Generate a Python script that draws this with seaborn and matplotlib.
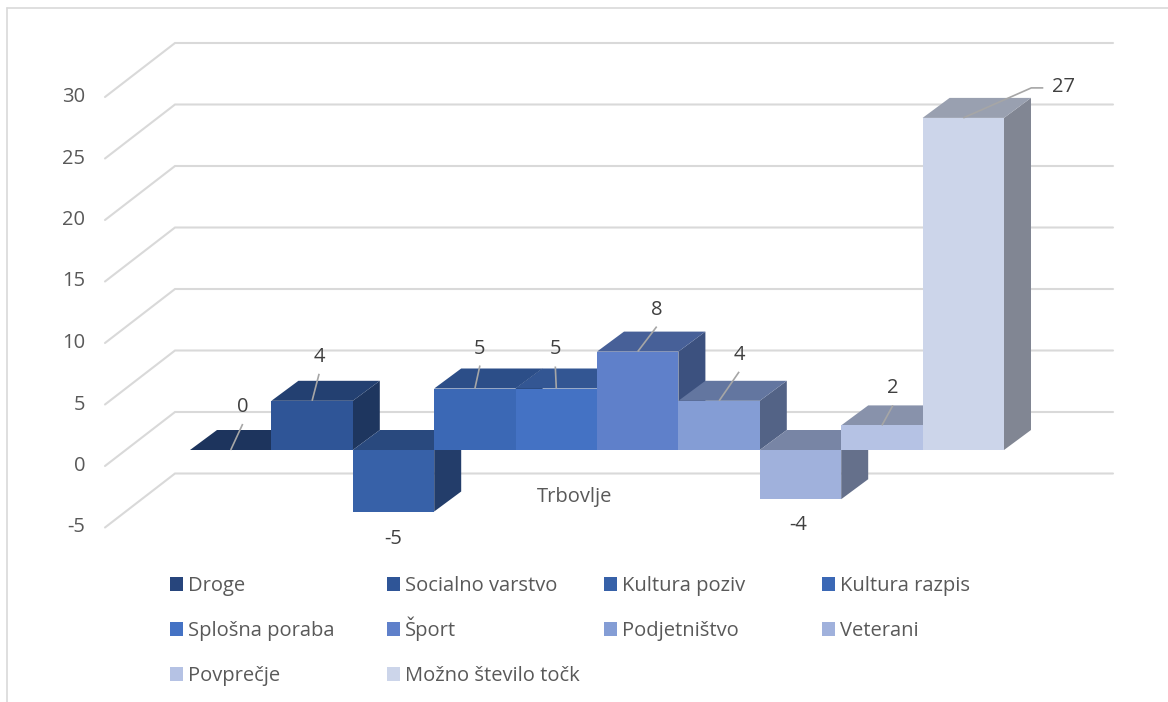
import numpy as np
import pandas as pd
import matplotlib
matplotlib.use("Agg")
import matplotlib.pyplot as plt
import seaborn as sns
from matplotlib.patches import Polygon
from matplotlib.lines import Line2D
import matplotlib.colors as mcolors

# ---------------- data ----------------
category = ["Trbovlje"]
series = ["Droge", "Socialno varstvo", "Kultura poziv", "Kultura razpis",
          "Splošna poraba", "Šport", "Podjetništvo", "Veterani",
          "Povprečje", "Možno število točk"]
values = [0, 4, -5, 5, 5, 8, 4, -4, 2, 27]
y_ticks = [-5, 0, 5, 10, 15, 20, 25, 30]

# ---------------- style ----------------
front_colors = ["#27457C", "#2F5597", "#3761A8", "#3B68B5", "#4472C4",
                "#5F80CA", "#849DD5", "#A0B1DC", "#B5C2E4", "#CCD5EA"]
# label offsets (pixels) relative to front-top centre of each bar
label_dx = [12, 7, 0, 5, -1, 19, 20, -2, 11, 100]
label_dy = [-43, -44, 28, -40, -39, -42, -46, 26, -37, -31]

W, H = 1168, 702
PX_X = 1017.5      # pixels per x data unit
PX_Y = 12.3        # pixels per y data unit
X0_PIX = 597       # pixel column of category centre
Y0_PIX = 450       # pixel row of value 0 on bar front plane
DEPTH_DX, DEPTH_DY = 27, 20          # bar depth projection (px)
FRONT_DX, FRONT_DY = -20.7, 16       # front plane offset from bar plane (px, down)
BACK_DX, BACK_DY = 49.3, 38          # back wall offset from bar plane (px, up)

def dx(p):
    return p / PX_X

def dy(p):
    return p / PX_Y

sns.set_theme(style="white")
plt.rcParams["font.family"] = ["Open Sans", "DejaVu Sans"]
FS = 14.5
GRAY_TXT = "#595959"
LABEL_TXT = "#404040"
GRID = "#D9D9D9"

df = pd.DataFrame({"region": category * len(series),
                   "series": series,
                   "value": values})

fig = plt.figure(figsize=(W / 100, H / 100), dpi=100)
ax = fig.add_axes([0, 0, 1, 1])
sns.barplot(data=df, x="region", y="value", hue="series", hue_order=series,
            palette=front_colors, width=0.8, dodge=True, saturation=1,
            legend=False, ax=ax, zorder=5)

ax.set_xlim(-X0_PIX / PX_X, (W - X0_PIX) / PX_X)
ax.set_ylim((Y0_PIX - H) / PX_Y, Y0_PIX / PX_Y)
ax.axis("off")

def shade(c, f):
    r, g, b = mcolors.to_rgb(c)
    return (r * f, g * f, b * f)

rects = [cont[0] for cont in ax.containers]
for i, (r, col) in enumerate(zip(rects, front_colors)):
    x0, w = r.get_x(), r.get_width()
    y0, h = r.get_y(), r.get_height()
    top = max(y0, y0 + h)
    bot = min(y0, y0 + h)
    ddx, ddy = dx(DEPTH_DX), dy(DEPTH_DY)
    side = Polygon([(x0 + w, bot), (x0 + w, top), (x0 + w + ddx, top + ddy),
                    (x0 + w + ddx, bot + ddy)], closed=True,
                   facecolor=shade(col, 0.63), edgecolor="none", zorder=10 + 3 * i)
    topf = Polygon([(x0, top), (x0 + w, top), (x0 + w + ddx, top + ddy),
                    (x0 + ddx, top + ddy)], closed=True,
                   facecolor=shade(col, 0.75), edgecolor="none", zorder=11 + 3 * i)
    ax.add_patch(side)
    ax.add_patch(topf)
    r.set_facecolor(col)
    r.set_edgecolor("none")
    r.set_linewidth(0)
    r.set_zorder(12 + 3 * i)

    # data label + leader line
    cx = x0 + w / 2
    v = values[i]
    ref = top if v >= 0 else bot
    lx = cx + dx(label_dx[i])
    ly = ref - dy(label_dy[i])
    ax.text(lx, ly, f"{v}", ha="center", va="center", fontsize=FS,
            color=LABEL_TXT, zorder=60)
    if v >= 0:
        if label_dx[i] > 50:
            pts_x = [cx, lx - dx(32), lx - dx(20)]
            pts_y = [top, ly - dy(1), ly - dy(1)]
        else:
            pts_x = [cx, lx]
            pts_y = [top, ly - dy(17)]
        ax.plot(pts_x, pts_y, color="#A6A6A6", lw=1.2, zorder=59,
                solid_capstyle="butt")

# ---------------- walls / gridlines ----------------
left_bar = rects[0].get_x()
right_bar = rects[-1].get_x() + rects[-1].get_width()
wall_x = left_bar - dx(64.3)
grid_end = right_bar + dx(109)
for v in y_ticks:
    fx, fy = wall_x + dx(FRONT_DX), v - dy(FRONT_DY)
    bx, by = wall_x + dx(BACK_DX), v + dy(BACK_DY)
    ax.plot([fx, bx, grid_end], [fy, by, by], color=GRID, lw=1.5, zorder=1,
            solid_joinstyle="miter")
    ax.text(fx - dx(20), fy, f"{v}", ha="right", va="center", fontsize=FS,
            color=GRAY_TXT)

# category label
ax.text(-dx(22), -dy(47), category[0], ha="center", va="center",
        fontsize=FS, color=GRAY_TXT)

# ---------------- legend (grid of equal cells, row-major like the original) --
n_cols = 4
col_x = [170, 387, 604, 822]
row_bottom = [596, 641, 686]
for k, (rect, name) in enumerate(zip(rects, series)):
    c, rw = k % n_cols, k // n_cols
    fig.legend([rect], [name], loc="lower left",
               bbox_to_anchor=(col_x[c] / W, 1 - row_bottom[rw] / H),
               bbox_transform=fig.transFigure, frameon=False,
               fontsize=FS, handlelength=0.65, handleheight=0.65,
               handletextpad=0.25, borderpad=0, borderaxespad=0,
               labelcolor=GRAY_TXT)

# chart border
fig.add_artist(Line2D([7 / W, 7 / W], [0, 1 - 8 / H], color=GRID, lw=1.2,
                      transform=fig.transFigure))
fig.add_artist(Line2D([7 / W, 1], [1 - 8 / H, 1 - 8 / H], color=GRID, lw=1.2,
                      transform=fig.transFigure))

fig.savefig("out.png", dpi=100)
